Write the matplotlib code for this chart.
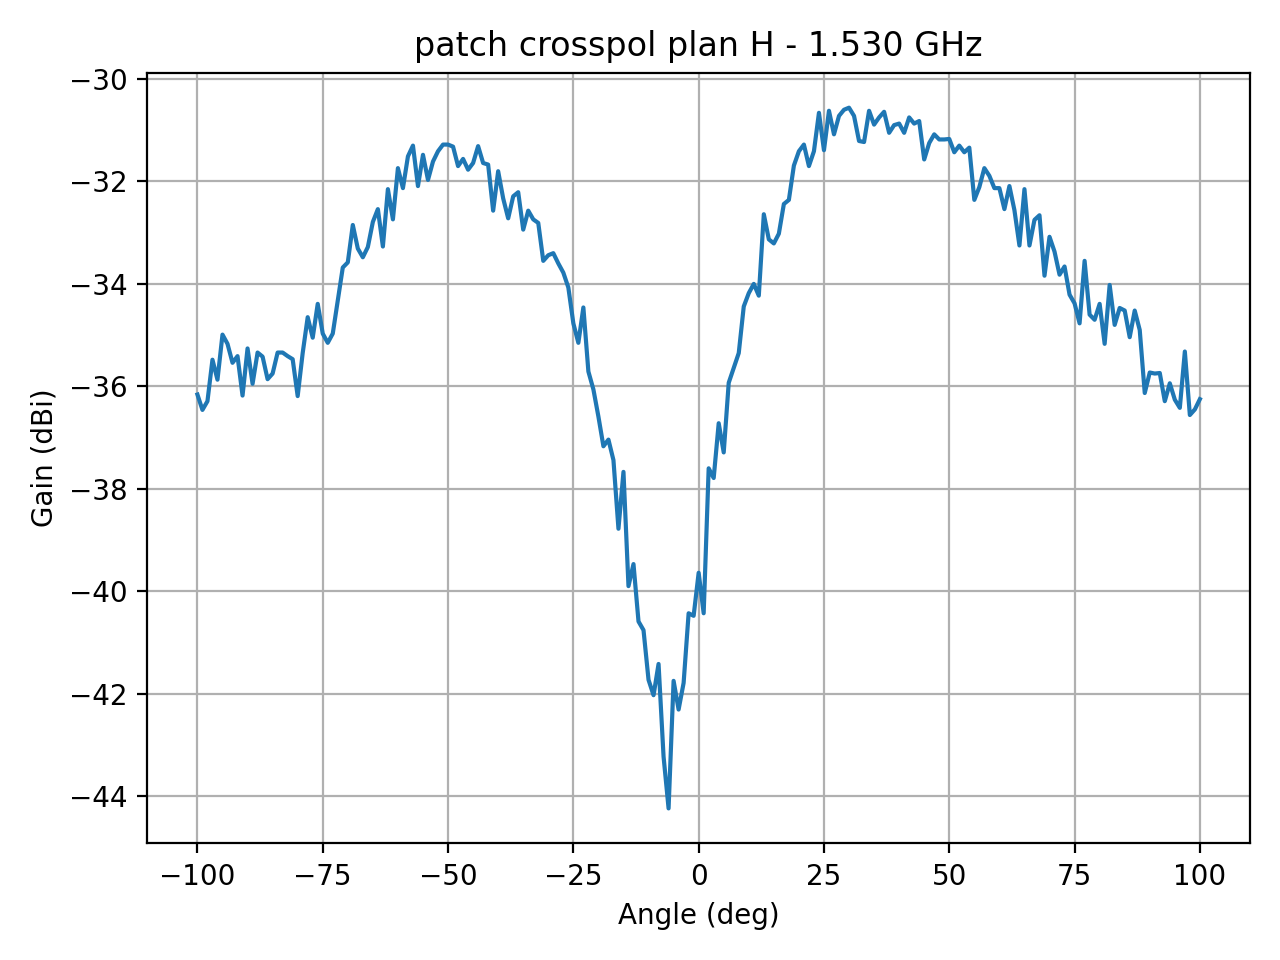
import matplotlib
matplotlib.use("Agg")
import matplotlib.pyplot as plt

# measured angles (deg), 1 degree step
angles = list(range(-100, 101))

# crosspol gain (dBi)
gain = [
    -36.16, -36.46, -36.29, -35.48, -35.87, -34.99, -35.17, -35.54, -35.41, -36.18,
    -35.26, -35.95, -35.34, -35.42, -35.86, -35.75, -35.34, -35.34, -35.41, -35.47,
    -36.19, -35.35, -34.65, -35.05, -34.39, -34.97, -35.15, -34.97, -34.32, -33.68,
    -33.58, -32.85, -33.31, -33.48, -33.28, -32.79, -32.54, -33.27, -32.15, -32.74,
    -31.74, -32.13, -31.51, -31.30, -32.09, -31.48, -31.97, -31.61, -31.41, -31.28,
    -31.28, -31.32, -31.70, -31.56, -31.77, -31.64, -31.31, -31.64, -31.67, -32.57,
    -31.80, -32.33, -32.72, -32.29, -32.21, -32.94, -32.57, -32.74, -32.81, -33.55,
    -33.44, -33.40, -33.60, -33.78, -34.07, -34.77, -35.15, -34.46, -35.71, -36.06,
    -36.59, -37.17, -37.04, -37.44, -38.78, -37.67, -39.90, -39.47, -40.59, -40.76,
    -41.73, -42.03, -41.42, -43.23, -44.24, -41.75, -42.31, -41.79, -40.43, -40.48,
    -39.64, -40.43, -37.60, -37.79, -36.72, -37.29, -35.93, -35.64, -35.35, -34.44,
    -34.18, -34.00, -34.23, -32.64, -33.13, -33.21, -33.02, -32.44, -32.36, -31.69,
    -31.41, -31.28, -31.70, -31.41, -30.66, -31.39, -30.62, -31.08, -30.72, -30.60,
    -30.56, -30.72, -31.21, -31.23, -30.62, -30.89, -30.75, -30.64, -31.05, -30.90,
    -30.87, -31.05, -30.75, -30.87, -30.82, -31.57, -31.25, -31.08, -31.18, -31.18,
    -31.17, -31.43, -31.30, -31.43, -31.34, -32.36, -32.11, -31.74, -31.89, -32.13,
    -32.13, -32.54, -32.09, -32.56, -33.25, -32.15, -33.25, -32.75, -32.66, -33.84,
    -33.08, -33.37, -33.82, -33.66, -34.21, -34.38, -34.77, -33.55, -34.60, -34.70,
    -34.39, -35.17, -34.02, -34.80, -34.47, -34.52, -35.04, -34.52, -34.90, -36.13,
    -35.73, -35.75, -35.74, -36.29, -35.94, -36.26, -36.42, -35.32, -36.56, -36.45,
    -36.25,
]

plt.figure(figsize=(6.4, 4.8), dpi=200)
plt.plot(angles, gain)
plt.grid()
plt.xlabel("Angle (deg)")
plt.ylabel("Gain (dBi)")
plt.title("patch crosspol plan H - 1.530 GHz")
plt.tight_layout()
plt.savefig("out.png", dpi=200)
